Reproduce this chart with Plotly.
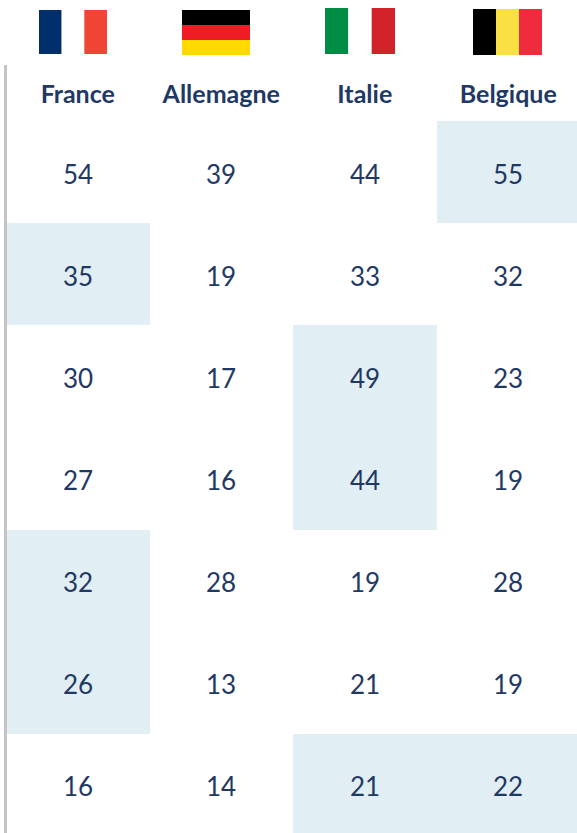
import plotly.graph_objects as go

countries = ["France", "Allemagne", "Italie", "Belgique"]
rows = ["r1", "r2", "r3", "r4", "r5", "r6", "r7"]
france = [54, 35, 30, 27, 32, 26, 16]
allemagne = [39, 19, 17, 16, 28, 13, 14]
italie = [44, 33, 49, 44, 19, 21, 21]
belgique = [55, 32, 23, 19, 28, 19, 22]
highlight_france = [0, 1, 0, 0, 1, 1, 0]
highlight_allemagne = [0, 0, 0, 0, 0, 0, 0]
highlight_italie = [0, 0, 1, 1, 0, 0, 1]
highlight_belgique = [1, 0, 0, 0, 0, 0, 1]

W, H = 577, 833
NAVY = "#1f3864"
TINT = "#e1eff4"
FONT = "Lato, Carlito, sans-serif"

values = [list(v) for v in zip(france, allemagne, italie, belgique)]
mask = [list(v) for v in zip(highlight_france, highlight_allemagne, highlight_italie, highlight_belgique)]

fig = go.Figure(go.Heatmap(
    z=mask, x=countries, y=rows,
    colorscale=[[0, "#ffffff"], [1, TINT]], zmin=0, zmax=1, showscale=False, hoverinfo="skip",
))

annotations = []
for r, row in zip(rows, values):
    for c, v in zip(countries, row):
        annotations.append(dict(x=c, y=r, xref="x", yref="y", text=str(v), showarrow=False, yshift=-1.5,
                                font=dict(family=FONT, size=26, color=NAVY)))

flags = [
    ("v", 39, 107, 10, 54, ["#002f6c", "#ffffff", "#f04434"]),
    ("h", 182, 250, 10, 55, ["#000000", "#ee1c25", "#ffd900"]),
    ("v", 325, 395, 8, 54, ["#008c45", "#ffffff", "#d2232b"]),
    ("v", 473, 542, 9, 55, ["#000000", "#fae042", "#ef2b3d"]),
]
shapes = [dict(type="rect", xref="paper", yref="paper", x0=4 / W, x1=7 / W, y0=0, y1=1 - 65 / H,
               fillcolor="#c4c4c4", line_width=0)]
for kind, x0, x1, y0, y1, cols in flags:
    for i, c in enumerate(cols):
        if kind == "v":
            a, b = x0 + (x1 - x0) * i / 3, x0 + (x1 - x0) * (i + 1) / 3
            c0, c1 = y0, y1
        else:
            a, b = x0, x1
            c0, c1 = y0 + (y1 - y0) * i / 3, y0 + (y1 - y0) * (i + 1) / 3
        shapes.append(dict(type="rect", xref="paper", yref="paper", x0=a / W, x1=b / W,
                           y0=1 - c1 / H, y1=1 - c0 / H, fillcolor=c, line_width=0))

fig.update_layout(
    width=W, height=H, margin=dict(l=0, r=0, t=0, b=0), paper_bgcolor="white", plot_bgcolor="white",
    shapes=shapes, annotations=annotations, showlegend=False,
    xaxis=dict(domain=[6 / W, 1], range=[-0.5, 3.479], side="top", showgrid=False, zeroline=False,
               showline=False, ticks="outside", ticklen=7, tickcolor="rgba(0,0,0,0)", automargin=False,
               tickfont=dict(family=FONT, size=25, color=NAVY, weight="bold")),
    yaxis=dict(domain=[0, 1 - 121 / H], range=[6.47, -0.5], showgrid=False, zeroline=False,
               showline=False, showticklabels=False, automargin=False),
)
fig.write_html("out.html", config={"displayModeBar": False},
               post_script="document.body.style.margin='0';document.documentElement.style.overflow='hidden';")
